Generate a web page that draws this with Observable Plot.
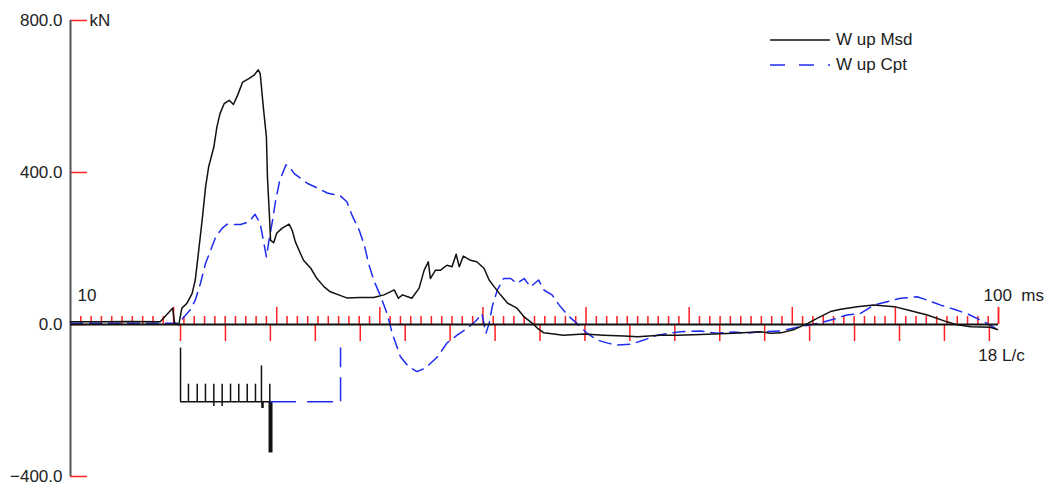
<!DOCTYPE html>
<html>
<head>
<meta charset="utf-8">
<script src="https://cdn.jsdelivr.net/npm/d3@7"></script>
<script src="https://cdn.jsdelivr.net/npm/@observablehq/plot@0.6"></script>
<style>
  body { margin: 0; background: #fff; font-family: "Liberation Sans", Arial, sans-serif; }
  #chart { position: relative; width: 1059px; height: 486px; }
  .legend { position: absolute; left: 770px; top: 27px; font-size: 17px; color: #222; }
  .legend div { display: flex; align-items: center; height: 25px; }
  .legend svg { margin-right: 6px; }
</style>
</head>
<body>
<div id="chart">
  <div class="legend">
    <div><svg width="60" height="4"><line x1="0" y1="2" x2="60" y2="2" stroke="#111" stroke-width="1.5"/></svg>W up Msd</div>
    <div><svg width="60" height="4"><line x1="0" y1="2" x2="60" y2="2" stroke="#1f2cf0" stroke-width="1.5" stroke-dasharray="15,14"/></svg>W up Cpt</div>
  </div>
</div>
<script>
// Measured wave up (ms, kN)
const msdTime = [10, 12.9, 15.8, 18.7, 19.9, 20.1, 20.5, 20.8, 21.3, 21.8, 22.1, 22.4, 22.8, 23.1, 23.4, 23.9, 24.2, 24.5, 24.9, 25.4, 25.8, 26.2, 26.7, 27.3, 27.8, 28.2, 28.4, 28.7, 29.0, 29.1, 29.3, 29.4, 29.7, 30.0, 30.5, 31.2, 31.5, 31.8, 32.3, 32.6, 33.3, 33.9, 34.6, 35.2, 36.2, 36.8, 38.1, 39.4, 40.4, 41.4, 41.8, 42.2, 42.7, 43.1, 43.8, 44.3, 44.7, 44.9, 45.4, 45.9, 46.5, 47.0, 47.4, 47.7, 48.1, 48.8, 49.4, 50.1, 50.6, 51.1, 51.7, 52.4, 53.3, 54.0, 54.8, 55.3, 55.9, 57.8, 59.8, 61.7, 63.7, 65.0, 67.2, 68.8, 71.1, 74.3, 76.9, 77.9, 78.9, 80.2, 81.5, 82.4, 83.7, 84.7, 86.3, 87.9, 89.9, 91.2, 93.1, 95.0, 96.0, 97.3, 99.2, 99.9];
const msdForce = [7, 7, 8, 7, 43, 3, -1, 43, 56, 82, 117, 187, 283, 362, 415, 467, 520, 555, 581, 590, 579, 603, 638, 647, 656, 670, 660, 572, 493, 388, 283, 222, 215, 240, 253, 264, 248, 218, 187, 169, 148, 121, 99, 86, 76, 70, 71, 71, 78, 91, 69, 78, 73, 69, 95, 143, 165, 121, 143, 143, 156, 152, 185, 152, 180, 169, 165, 148, 117, 99, 78, 56, 43, 20, 3, -10, -22, -28, -25, -28, -30, -32, -28, -28, -26, -23, -19, -23, -22, -13, 3, 16, 34, 40, 47, 51, 47, 38, 25, 7, -1, -6, -7, -13];

// Computed wave up (ms, kN)
const cptTime = [10, 14.0, 19.4, 20.5, 21.0, 21.6, 22.1, 22.6, 23.1, 23.6, 24.1, 24.7, 25.2, 26.5, 27.3, 27.9, 28.4, 28.7, 29.0, 29.2, 29.6, 29.9, 30.3, 30.9, 31.2, 31.7, 33.0, 33.9, 34.9, 36.2, 36.8, 37.3, 38.0, 38.5, 38.9, 39.4, 40.1, 40.7, 41.2, 42.0, 42.8, 43.6, 44.4, 45.6, 46.5, 47.5, 48.5, 49.4, 49.9, 50.3, 50.6, 50.9, 51.4, 52.0, 52.7, 53.3, 54.0, 54.6, 55.4, 55.9, 56.7, 57.4, 58.2, 59.1, 60.1, 61.1, 62.1, 63.0, 64.3, 65.6, 66.9, 69.2, 71.1, 72.7, 74.3, 75.6, 76.9, 78.9, 80.5, 81.8, 83.1, 84.0, 85.3, 86.6, 87.9, 89.2, 90.5, 92.1, 93.1, 94.4, 95.7, 97.0, 97.9, 98.9, 99.7];
const cptForce = [3, 3, 3, 3, 20, 38, 64, 108, 161, 196, 231, 253, 264, 263, 270, 290, 266, 222, 178, 213, 275, 327, 380, 420, 416, 397, 371, 360, 346, 338, 323, 288, 248, 209, 161, 117, 73, 29, -23, -85, -111, -124, -115, -85, -49, -28, -10, 12, 29, -23, 3, 47, 91, 121, 121, 108, 121, 99, 117, 91, 78, 51, 25, 3, -23, -41, -49, -54, -52, -41, -28, -19, -17, -23, -20, -23, -19, -17, -7, -1, 7, 14, 25, 29, 51, 60, 69, 73, 64, 51, 40, 28, 16, 3, -10];

// Resistance distribution markers (ms, kN)
const segTime = [21.44, 22.29, 23.09, 23.90, 24.71, 25.52, 26.32, 27.14, 27.94, 28.52, 29.33];
const segTop = [-157, -157, -157, -157, -157, -157, -157, -157, -157, -109, -157];
const segBottom = [-203, -203, -203, -216, -216, -203, -203, -203, -203, -203, -203];
const shaftStart = 20.67, toeTime = 29.40, cptEnd = 36.19, nearToeTime = 28.62;
const resBase = -203, resTop = -62, toeForce = -338, nearToeForce = -221;

// Axis values
const yTicks = [-400, 0, 400, 800];
const timeStart = 10, timeEnd = 100;
const lcStart = 20.67, lcStep = 4.358, lcLast = 18;

const msd = msdTime.map((t, i) => ({t, v: msdForce[i]}));
const cpt = cptTime.map((t, i) => ({t, v: cptForce[i]}));
const segs = segTime.map((t, i) => ({t, top: segTop[i], bottom: segBottom[i]}));

const msTicks = d3.range(timeStart + 1, timeEnd + 1);
const msMinor = msTicks.filter(d => d % 10 !== 0);
const msMajor = msTicks.filter(d => d % 10 === 0);
const lcTicks = d3.range(0, lcLast + 1).map(k => lcStart + k * lcStep);

const red = "#ff2020", ink = "#222";
const minorLen = 21, majorLen = 45, yTickLen = 1.65;

const chart = Plot.plot({
  width: 1059,
  height: 486,
  marginLeft: 70,
  marginRight: 61,
  marginTop: 20,
  marginBottom: 10,
  style: {fontFamily: "'Liberation Sans', Arial, sans-serif", fontSize: "17px", color: ink, background: "#fff"},
  x: {domain: [timeStart, timeEnd], axis: null},
  y: {domain: [-400, 800], axis: null},
  marks: [
    // time ticks (ms) above the zero line
    Plot.ruleX(msMinor, {x: d => d, y1: 0, y2: minorLen, stroke: red, strokeWidth: 1.5}),
    Plot.ruleX(msMajor, {x: d => d, y1: 0, y2: majorLen, stroke: red, strokeWidth: 1.5}),
    // L/c ticks below the zero line
    Plot.ruleX(lcTicks, {x: d => d, y1: 0, y2: -majorLen, stroke: red, strokeWidth: 1.5}),
    // force axis
    Plot.ruleY(yTicks, {y: d => d, x1: timeStart, x2: timeStart + yTickLen, stroke: red, strokeWidth: 1.5}),
    Plot.ruleX([timeStart], {y1: -400, y2: 800, stroke: "#555", strokeWidth: 2}),
    Plot.axisY({ticks: yTicks, tickSize: 0, tickPadding: 8, tickFormat: d3.format(".1f"), fill: ink, fontSize: 17}),
    Plot.text(["kN"], {x: timeStart + yTickLen, y: 800, dx: 2, textAnchor: "start", fill: ink, fontSize: 17}),
    // wave traces
    Plot.line(cpt, {x: "t", y: "v", stroke: "#1f2cf0", strokeWidth: 1.5, strokeDasharray: "12,7"}),
    Plot.line(msd, {x: "t", y: "v", stroke: "#111", strokeWidth: 1.5}),
    // zero line
    Plot.ruleY([0], {x1: timeStart, x2: timeEnd, stroke: "#111", strokeWidth: 2}),
    Plot.ruleX([timeEnd], {y1: 0, y2: majorLen, stroke: red, strokeWidth: 1.5}),
    // resistance distribution
    Plot.ruleX([shaftStart], {y1: resTop, y2: resBase, stroke: "#111", strokeWidth: 1.5}),
    Plot.ruleY([resBase], {x1: shaftStart, x2: toeTime, stroke: "#111", strokeWidth: 1.5}),
    Plot.ruleX(segs, {x: "t", y1: "top", y2: "bottom", stroke: "#111", strokeWidth: 1.5}),
    Plot.ruleX([nearToeTime], {y1: resBase, y2: nearToeForce, stroke: "#111", strokeWidth: 2.5}),
    Plot.ruleX([toeTime], {y1: resBase, y2: toeForce, stroke: "#111", strokeWidth: 4}),
    Plot.ruleY([resBase], {x1: toeTime, x2: cptEnd, stroke: "#1f2cf0", strokeWidth: 1.5, strokeDasharray: "26,11"}),
    Plot.ruleX([cptEnd], {y1: resBase, y2: resTop, stroke: "#1f2cf0", strokeWidth: 1.5, strokeDasharray: "24,10"}),
    // axis labels
    Plot.text(["10"], {x: timeStart, y: 0, dx: 7, dy: -29, textAnchor: "start", fill: ink, fontSize: 17}),
    Plot.text(["100  ms"], {x: timeEnd, y: 0, dx: -15, dy: -29, textAnchor: "start", fill: ink, fontSize: 17}),
    Plot.text(["18 L/c"], {x: lcTicks[lcTicks.length - 1], y: 0, dx: -11, dy: 31, textAnchor: "start", fill: ink, fontSize: 17})
  ]
});
chart.style.position = "absolute";
chart.style.left = "0";
chart.style.top = "0";
document.getElementById("chart").prepend(chart);
</script>
</body>
</html>
